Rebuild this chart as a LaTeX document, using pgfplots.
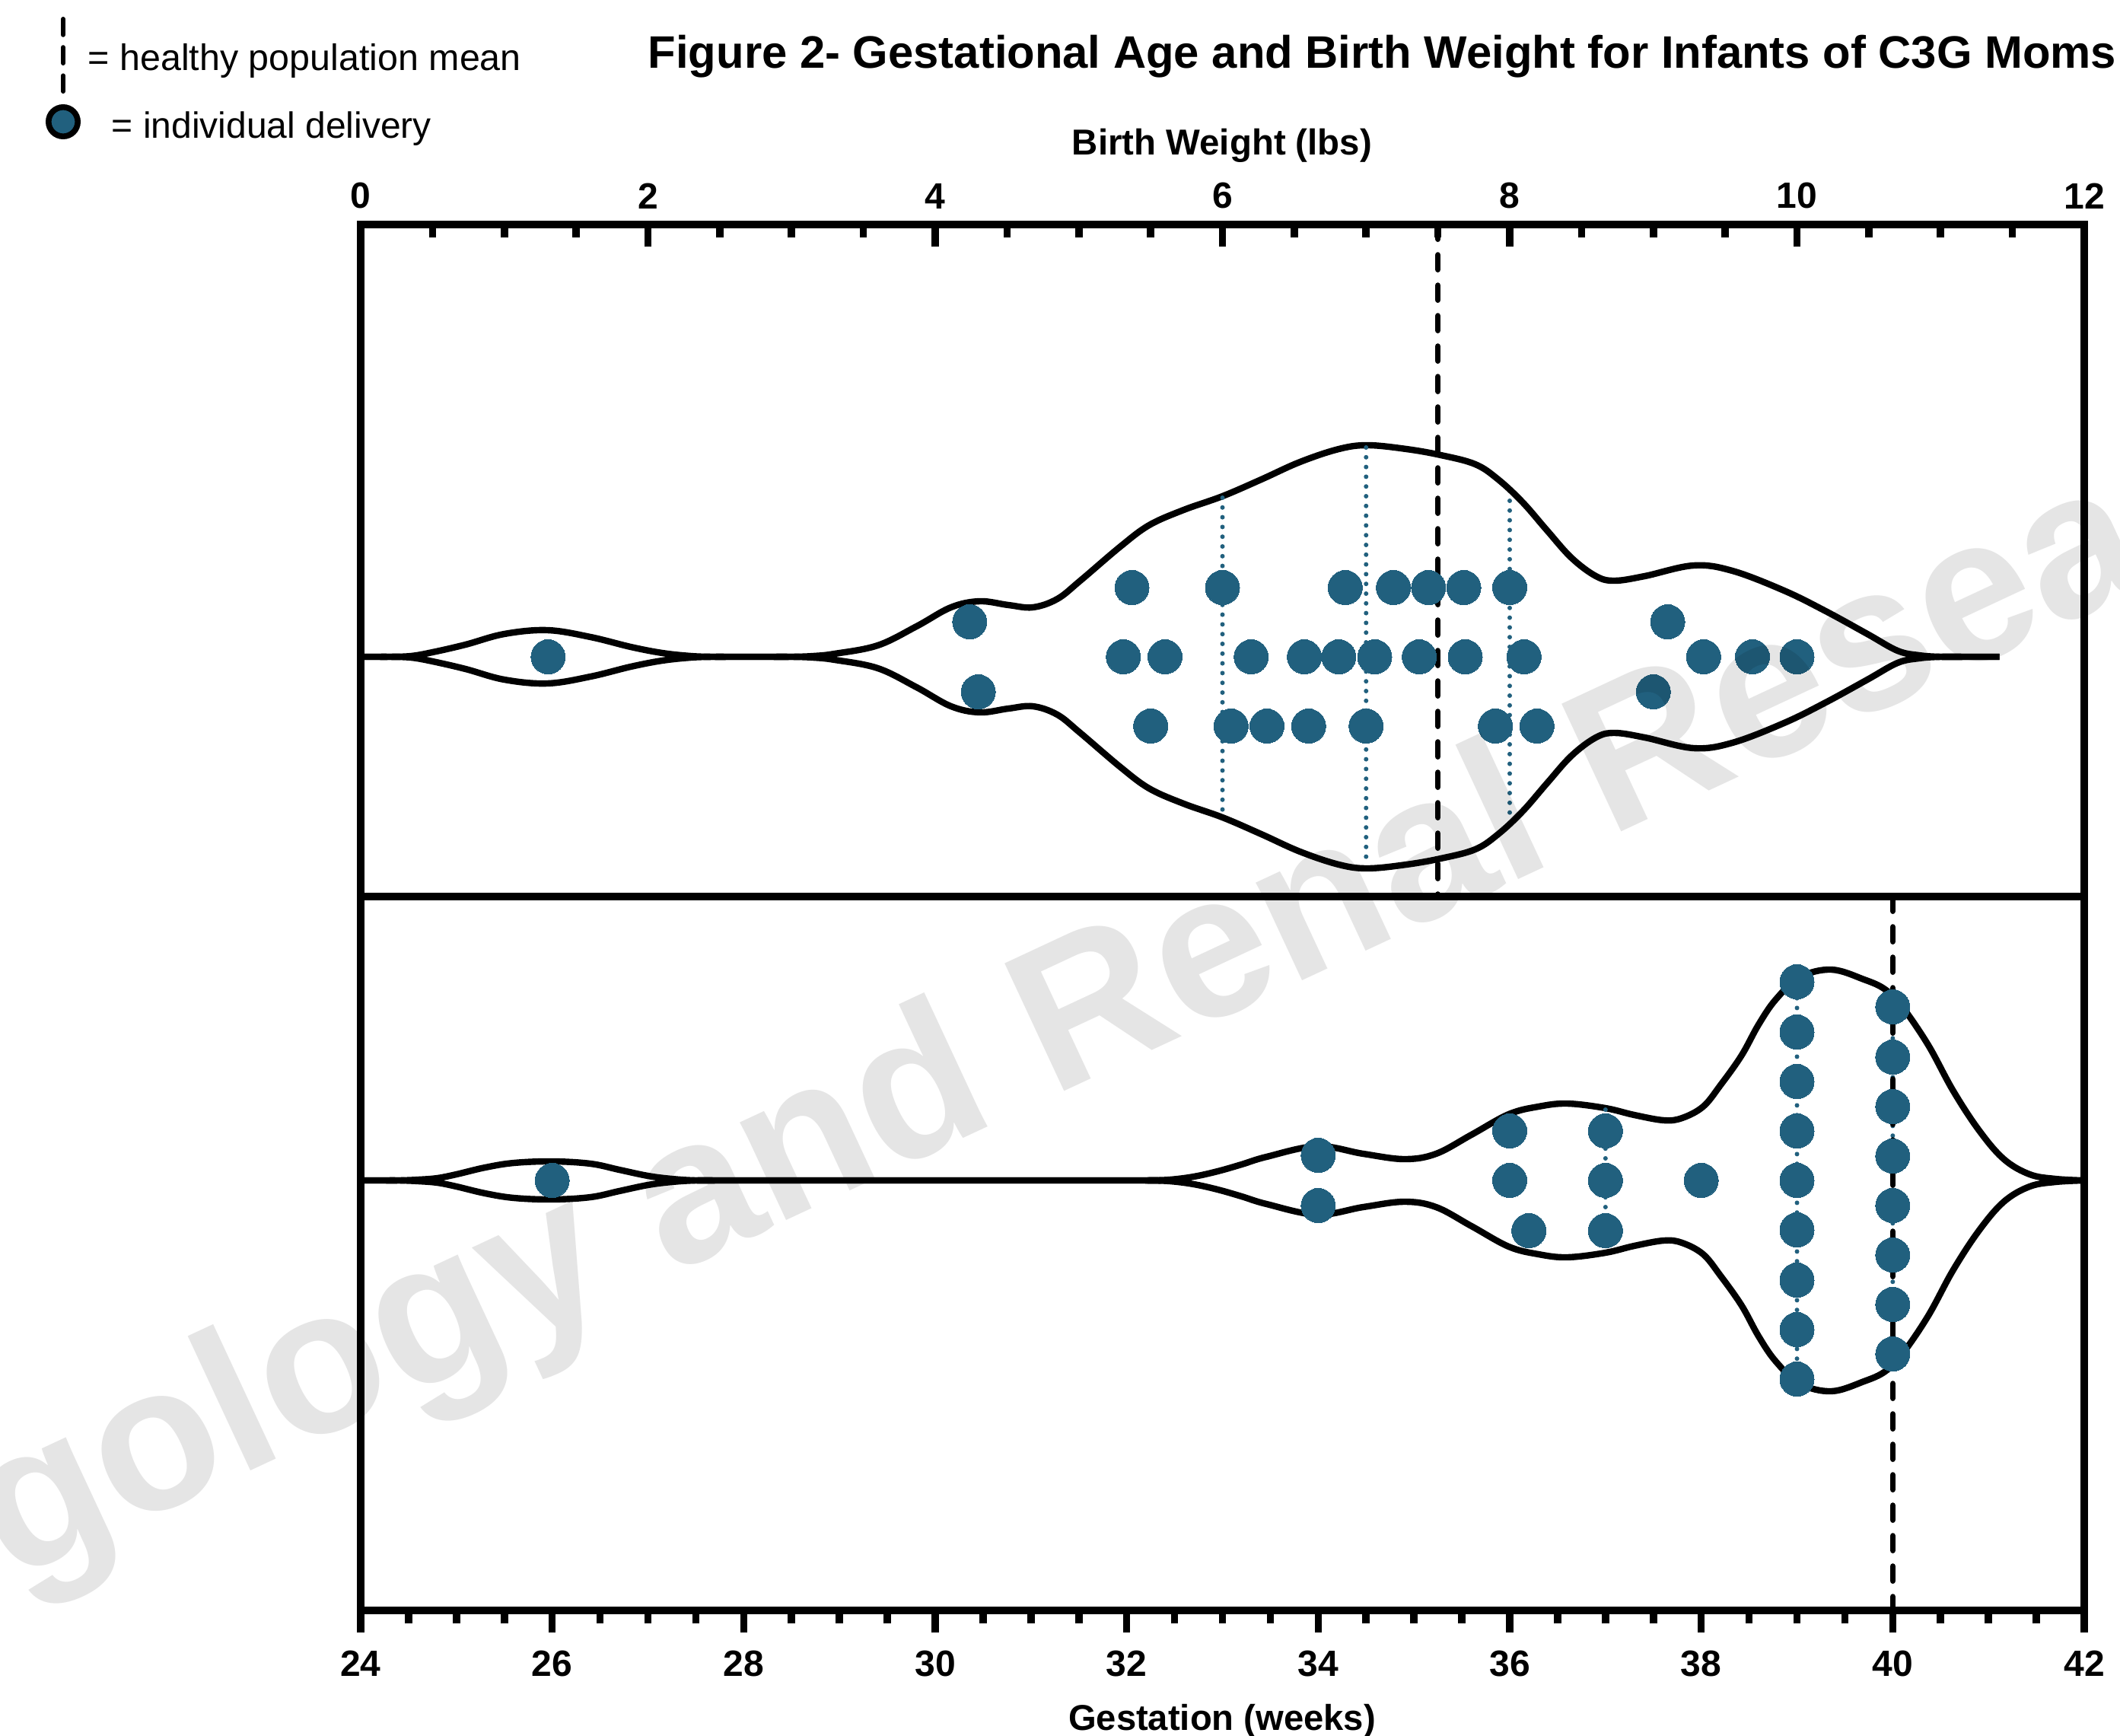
\documentclass[border=0pt]{standalone}
\usepackage{fontspec}
\setmainfont{Liberation Sans}
\usepackage{pgfplots}
\usepackage{pgfplotstable}
\pgfplotsset{compat=1.18}
\definecolor{dotblue}{RGB}{33,96,126}

% violin half-widths (in px of the reference), birth weight (lbs)
\pgfplotstableread{
x h
0.0 0
0.1 0
0.2 0
0.35 1
0.5 6
0.73 16
1.0 30
1.3 35
1.6 26
1.88 13
2.1 5
2.3 1
2.45 0
2.6 0
2.8 0
3.0 0
3.15 1
3.3 4
3.6 15
3.87 40
4.11 65
4.31 73
4.51 68
4.68 65
4.85 76
5.01 100
5.29 145
5.49 173
5.73 193
6.0 211
6.27 233
6.54 256
6.81 273
7.01 278
7.28 273
7.52 265
7.76 253
7.92 233
8.09 203
8.26 166
8.43 130
8.60 106
8.73 100
8.94 106
9.28 120
9.55 113
9.91 87
10.2 60
10.49 30
10.7 8
10.85 2
11.0 0
11.2 0
11.41 0
}\topviolin

% gestation (weeks)
\pgfplotstableread{
x h
24.0 0
24.2 0
24.4 0
24.6 1
24.8 3
25.0 8
25.3 17
25.6 23
26.0 25
26.4 22
26.7 14
27.0 6
27.25 2
27.5 0
27.75 0
28.0 0
32.0 0
32.2 0
32.45 1
32.7 5
32.95 12
33.2 21
33.46 31
33.99 45
34.47 35
34.90 28
35.23 35
35.6 60
35.99 87
36.3 97
36.6 101
37.0 95
37.3 86
37.61 79
37.8 82
38.02 97
38.2 125
38.42 164
38.6 205
38.78 238
39.03 267
39.36 277
39.7 264
39.92 251
40.1 228
40.37 178
40.63 118
40.9 66
41.16 28
41.43 8
41.7 2
42.0 0
}\botviolin

\pgfplotstableread{
x y
5.37 91
6.00 91
6.855 91
7.19 91
7.435 91
7.68 91
8.00 91
1.305 0
5.31 0
5.60 0
6.20 0
6.57 0
6.81 0
7.06 0
7.37 0
7.69 0
8.10 0
9.35 0
9.69 0
10.00 0
4.24 46
9.10 46
4.30 -46
9.00 -46
5.50 -91
6.06 -91
6.31 -91
6.60 -91
7.00 -91
7.90 -91
8.19 -91
}\topdots

\pgfplotstableread{
x y
26.0 0
34.0 33
34.0 -33
36.0 65
36.0 0
36.2 -66
37.0 65
37.0 0
37.0 -66
38.0 0
39.0 261
39.0 195
39.0 130
39.0 65
39.0 0
39.0 -65
39.0 -131
39.0 -196
39.0 -261
40.0 228
40.0 162
40.0 97
40.0 32
40.0 -33
40.0 -98
40.0 -163
40.0 -228
}\botdots

\pgfplotsset{
  violinaxis/.style={
    scale only axis,
    width=566.25pt,
    axis line style={line width=2.4pt},
    ytick=\empty,
    major tick length=7.25pt,
    minor tick length=4.25pt,
    tick style={black, line width=2.4pt},
    minor x tick num=3,
    tick label style={font=\bfseries\fontsize{12}{14}\selectfont},
    /pgf/number format/assume math mode=true,
  },
  outline/.style={black, line width=2.1pt, smooth, tension=0.6, line join=round},
  quart/.style={dotblue, line width=1.5pt, line cap=round, dash pattern=on 0pt off 3.2pt},
  dots/.style={only marks, mark=*, mark size=5.625pt, mark options={fill=dotblue, draw=dotblue, line width=0pt}},
  meanline/.style={black, line width=1.9pt, line cap=round, dash pattern=on 4.8pt off 5.2pt},
}

\begin{document}
\begin{tikzpicture}
\path[use as bounding box] (0pt,0pt) rectangle (696.5pt,-570.25pt);

% top panel: birth weight
\begin{axis}[violinaxis,
  at={(118.5pt,-73.75pt)}, anchor=north west, height=220.75pt,
  xmin=0, xmax=12, ymin=-315, ymax=568,
  xtick={0,2,...,12},
  xtick pos=right, xticklabel pos=right, tick align=inside,
  xticklabel style={anchor=south, inner sep=0pt},
  xticklabel shift=5pt,
]
\addplot[outline] table[x=x, y=h] {\topviolin};
\addplot[outline] table[x=x, y expr=-\thisrow{h}] {\topviolin};
\addplot[quart] coordinates {(6,209) (6,-209)};
\addplot[quart] coordinates {(7,275) (7,-275)};
\addplot[quart] coordinates {(8,205) (8,-205)};
\addplot[dots] table[x=x, y=y] {\topdots};
\addplot[meanline] coordinates {(7.5,568) (7.5,-315)};
\end{axis}

% bottom panel: gestation
\begin{axis}[violinaxis,
  at={(118.5pt,-294.5pt)}, anchor=north west, height=234.5pt,
  xmin=24, xmax=42, ymin=-565, ymax=373,
  xtick={24,26,...,42},
  xtick pos=left, xticklabel pos=left, tick align=outside,
  xticklabel style={anchor=north, inner sep=0pt},
  xticklabel shift=5.75pt,
]
\addplot[outline] table[x=x, y=h] {\botviolin};
\addplot[outline] table[x=x, y expr=-\thisrow{h}] {\botviolin};
\addplot[quart] coordinates {(37,93) (37,-93)};
\addplot[quart] coordinates {(39,265) (39,-265)};
\addplot[quart] coordinates {(40,238) (40,-238)};
\addplot[dots] table[x=x, y=y] {\botdots};
\addplot[meanline] coordinates {(40,373) (40,-565)};
\end{axis}

\begin{scope}[x=0.25pt, y=-0.25pt]
% title and axis titles
\node[anchor=base west, inner sep=0pt, font=\bfseries\fontsize{14.95}{18}\selectfont] at (851,90)
  {Figure 2- Gestational Age and Birth Weight for Infants of C3G Moms};
\node[anchor=base, inner sep=0pt, font=\bfseries\fontsize{11.85}{14}\selectfont] at (1606,203)
  {Birth Weight (lbs)};
\node[anchor=base, inner sep=0pt, font=\bfseries\fontsize{11.8}{14}\selectfont] at (1606,2273)
  {Gestation (weeks)};
% key
\draw[black, line width=1.5pt, line cap=round, dash pattern=on 5.2pt off 4.1pt] (83,25) -- (83,120);
\node[anchor=base west, inner sep=0pt, font=\fontsize{12.1}{14}\selectfont] at (115,93)
  {= healthy population mean};
\draw[black, line width=1.9pt, fill=dotblue] (83,160) circle[radius=4.8pt];
\node[anchor=base west, inner sep=0pt, font=\fontsize{12}{14}\selectfont] at (146,181)
  {= individual delivery};
% watermark
\node[rotate=25, anchor=base west, inner sep=0pt, text=black, text opacity=0.1,
  font=\bfseries\fontsize{67.25}{80}\selectfont] at (13.8,2079.5)
  {gology and Renal Research};
\end{scope}
\end{tikzpicture}
\end{document}
